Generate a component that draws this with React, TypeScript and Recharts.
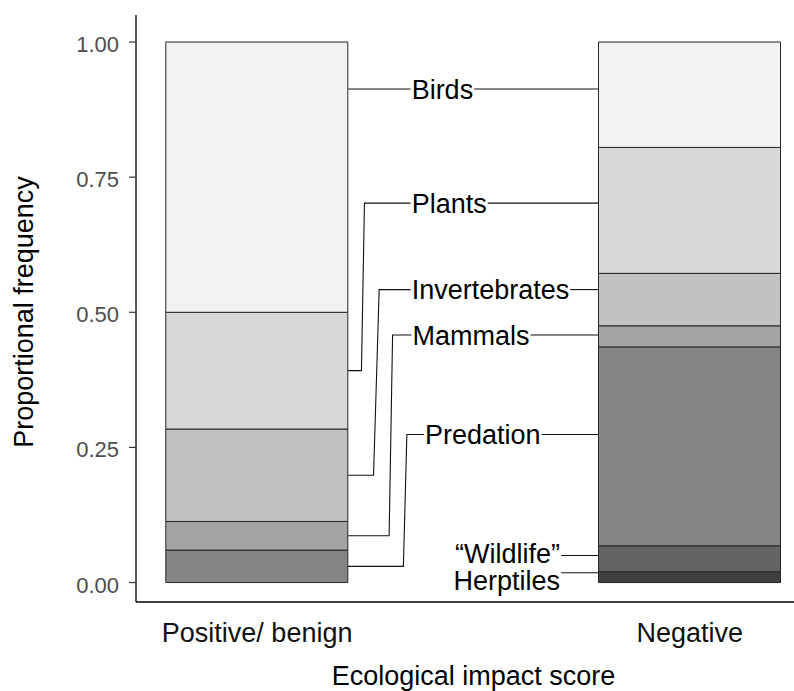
import { useLayoutEffect, useRef, useState } from 'react'
import * as Recharts from 'recharts'

const { Bar, BarChart, Label, XAxis, YAxis } = Recharts

// categories on the x axis (numeric positions, like ggplot's discrete scale)
const categories = ['Positive/ benign', 'Negative']
const categoryPositions = [1, 2]

// stack order, bottom to top
const groups = ['Herptiles', '\u201CWildlife\u201D', 'Predation', 'Mammals', 'Invertebrates', 'Plants', 'Birds']
const herptiles = [0, 0.02]
const wildlife = [0, 0.048]
const predation = [0.06, 0.368]
const mammals = [0.053, 0.039]
const invertebrates = [0.171, 0.097]
const plants = [0.216, 0.233]
const birds = [0.5, 0.195]
const seriesValues = [herptiles, wildlife, predation, mammals, invertebrates, plants, birds]

const yTicks = [0, 0.25, 0.5, 0.75, 1]

// repelled label placement, in data units
const labelX = [1.7, 1.7, 1.388, 1.359, 1.357, 1.357, 1.357]
const labelAnchor = ['end', 'end', 'start', 'start', 'start', 'start', 'start']
const labelY = [0.018, 0.05, 0.274, 0.458, 0.542, 0.702, 0.913]
const labelTextY = [0.004, 0.055, 0.274, 0.458, 0.542, 0.702, 0.913]
const elbowTopX = [0, 0, 1.346, 1.313, 1.282, 1.248, 0]
const elbowBottomX = [0, 0, 1.338, 1.305, 1.269, 1.241, 0]

const fills = ['#404040', '#636363', '#858585', '#a4a4a4', '#c2c2c2', '#d8d8d8', '#f2f2f2']

const FONT = '"Liberation Sans", Arial, Helvetica, sans-serif'
const CHART_W = 820
const CHART_H = 683
const MARGIN = { top: 7, right: 17, bottom: 0, left: 0 }
const Y_AXIS_W = 128
const X_AXIS_H = 89
const BAR_SIZE = 182
const X_DOMAIN = [0.72, 2.28]
const Y_DOMAIN = [-0.036, 1.05]

const chartData = categories.map((name, i) => {
  const row: Record<string, number | string> = { name, pos: categoryPositions[i] }
  groups.forEach((_, k) => {
    row[`s${k}`] = seriesValues[k][i]
  })
  return row
})

const R = Recharts as any
const usePlotAreaSafe: () => any = R.usePlotArea ?? (() => undefined)
const useOffsetSafe: () => any = R.useOffset ?? (() => undefined)

function usePlotBox() {
  const area = usePlotAreaSafe()
  const offset = useOffsetSafe()
  if (area && area.width > 0) return area
  if (offset && offset.left != null) {
    return {
      x: offset.left,
      y: offset.top,
      width: CHART_W - offset.left - offset.right,
      height: CHART_H - offset.top - offset.bottom,
    }
  }
  return {
    x: MARGIN.left + Y_AXIS_W,
    y: MARGIN.top,
    width: CHART_W - MARGIN.left - MARGIN.right - Y_AXIS_W,
    height: CHART_H - MARGIN.top - MARGIN.bottom - X_AXIS_H,
  }
}

interface RepelLabelProps {
  text: string
  k: number
  px: (v: number) => number
  py: (v: number) => number
  leftEdge: number
  rightEdge: number
}

function RepelLabel({ text, k, px, py, leftEdge, rightEdge }: RepelLabelProps) {
  const ref = useRef<SVGTextElement>(null)
  const [width, setWidth] = useState(0)
  useLayoutEffect(() => {
    if (ref.current) setWidth(ref.current.getComputedTextLength())
  }, [text])

  const x = px(labelX[k])
  const ly = py(labelY[k])
  const textStart = labelAnchor[k] === 'end' ? x - width : x
  const textEnd = labelAnchor[k] === 'end' ? x : x + width

  // segment bounds in each bar
  const bounds = [0, 1].map((j) => {
    let lo = 0
    for (let m = 0; m < k; m++) lo += seriesValues[m][j]
    return [lo, lo + seriesValues[k][j]]
  })

  const paths: string[] = []
  const [l0, l1] = bounds[0]
  if (l1 > l0) {
    if (labelY[k] >= l0 && labelY[k] <= l1) {
      paths.push(`M${leftEdge},${ly}L${textStart - 1},${ly}`)
    } else {
      const a = py((l0 + l1) / 2)
      paths.push(
        `M${leftEdge},${a}L${px(elbowBottomX[k])},${a}L${px(elbowTopX[k])},${ly}L${textStart - 1},${ly}`,
      )
    }
  }
  const [r0, r1] = bounds[1]
  if (r1 > r0) {
    if (labelY[k] >= r0 && labelY[k] <= r1) {
      paths.push(`M${textEnd + 1},${ly}L${rightEdge},${ly}`)
    } else {
      const a = py((r0 + r1) / 2)
      paths.push(`M${textEnd + 1},${ly}L${rightEdge - 14},${ly}L${rightEdge - 14},${a}L${rightEdge},${a}`)
    }
  }

  return (
    <g>
      {width > 0 &&
        paths.map((d, i) => <path key={i} d={d} fill="none" stroke="#111" strokeWidth={1.1} />)}
      <text
        ref={ref}
        x={x}
        y={py(labelTextY[k])}
        dy="0.36em"
        textAnchor={labelAnchor[k] as 'start' | 'end'}
        fontSize={27}
        fontFamily={FONT}
        fill="#000"
      >
        {text}
      </text>
    </g>
  )
}

function RepelLabels() {
  const box = usePlotBox()
  const px = (v: number) => box.x + ((v - X_DOMAIN[0]) / (X_DOMAIN[1] - X_DOMAIN[0])) * box.width
  const py = (v: number) => box.y + ((Y_DOMAIN[1] - v) / (Y_DOMAIN[1] - Y_DOMAIN[0])) * box.height
  const leftEdge = px(categoryPositions[0]) + BAR_SIZE / 2
  const rightEdge = px(categoryPositions[1]) - BAR_SIZE / 2
  return (
    <g className="repel-labels">
      {groups.map((g, k) => (
        <RepelLabel key={g} text={g} k={k} px={px} py={py} leftEdge={leftEdge} rightEdge={rightEdge} />
      ))}
    </g>
  )
}

function YTick({ x, y, payload }: any) {
  return (
    <text x={x} y={y} dy={10} textAnchor="end" fill="#4d4d4d" fontSize={22} fontFamily={FONT}>
      {Number(payload.value).toFixed(2)}
    </text>
  )
}

function XTick({ x, y, payload }: any) {
  const i = categoryPositions.indexOf(payload.value)
  return (
    <text x={x} y={y} dy={40} textAnchor="middle" fill="#111" fontSize={27} fontFamily={FONT}>
      {categories[i]}
    </text>
  )
}

function YTitle({ viewBox }: any) {
  const x = viewBox.x + 24.5
  const y = viewBox.y + viewBox.height / 2 + 3.5
  return (
    <text
      x={x}
      y={y}
      transform={`rotate(-90 ${x} ${y})`}
      textAnchor="middle"
      fontSize={27}
      fontFamily={FONT}
      fill="#000"
    >
      Proportional frequency
    </text>
  )
}

function XTitle({ viewBox }: any) {
  return (
    <text
      x={viewBox.x + viewBox.width / 2}
      y={viewBox.y + 83}
      textAnchor="middle"
      fontSize={27}
      fontFamily={FONT}
      fill="#000"
    >
      Ecological impact score
    </text>
  )
}

export default function App() {
  return (
    <div
      style={{
        position: 'fixed',
        left: 8,
        top: 8,
        width: 786,
        height: CHART_H,
        overflow: 'hidden',
        background: '#fff',
      }}
    >
      <BarChart
        width={CHART_W}
        height={CHART_H}
        data={chartData}
        margin={MARGIN}
        barSize={BAR_SIZE}
        style={{ fontFamily: FONT }}
      >
        <XAxis
          type="number"
          dataKey="pos"
          domain={X_DOMAIN}
          allowDataOverflow
          ticks={categoryPositions}
          height={X_AXIS_H}
          axisLine={{ stroke: '#000', strokeWidth: 1.3 }}
          tickLine={false}
          tickSize={0}
          tickMargin={0}
          tick={<XTick />}
        >
          <Label content={<XTitle />} />
        </XAxis>
        <YAxis
          type="number"
          domain={Y_DOMAIN}
          allowDataOverflow
          ticks={yTicks}
          width={Y_AXIS_W}
          axisLine={{ stroke: '#000', strokeWidth: 1.3 }}
          tickLine={{ stroke: '#333', strokeWidth: 1.2 }}
          tickSize={7}
          tickMargin={10}
          tick={<YTick />}
        >
          <Label content={<YTitle />} />
        </YAxis>
        {groups.map((g, k) => (
          <Bar
            key={g}
            dataKey={`s${k}`}
            name={g}
            stackId="impact"
            fill={fills[k]}
            stroke="#262626"
            strokeWidth={1}
            isAnimationActive={false}
          />
        ))}
        <RepelLabels />
      </BarChart>
    </div>
  )
}
